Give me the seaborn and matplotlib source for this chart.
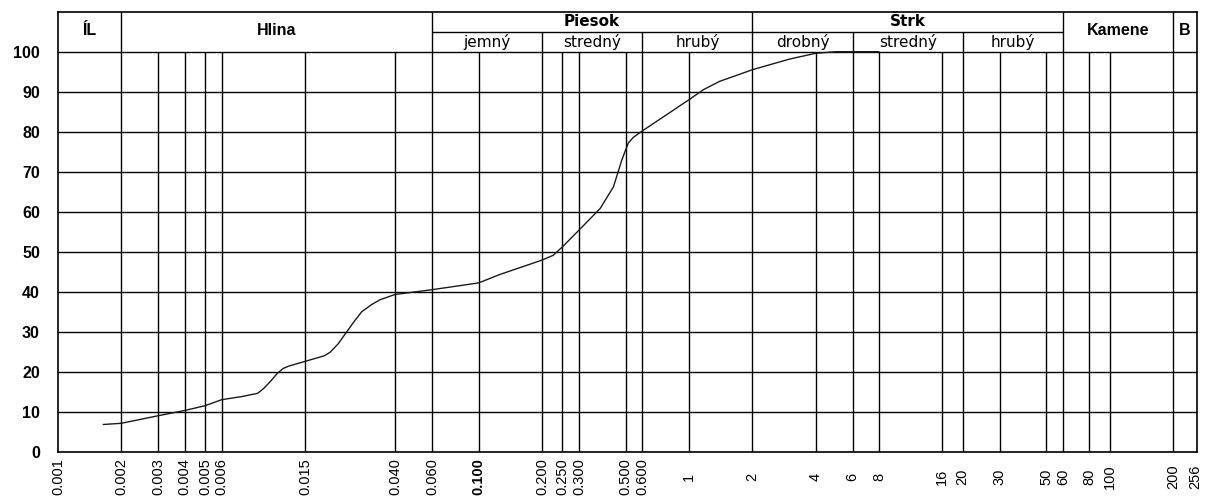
import math
import matplotlib
matplotlib.use("Agg")
import matplotlib.pyplot as plt
import seaborn as sns
import pandas as pd

# Grain size distribution curve (particle diameter in mm vs. percent passing)
diameter_mm = [0.00164, 0.002, 0.003, 0.004, 0.005, 0.006, 0.0075, 0.0089, 0.0095,
               0.0102, 0.011, 0.01175, 0.0125, 0.015, 0.0185, 0.0197, 0.0215, 0.0236,
               0.0258, 0.0278, 0.031, 0.034, 0.040, 0.060, 0.100, 0.126, 0.200,
               0.226, 0.250, 0.300, 0.378, 0.437, 0.479, 0.500, 0.515, 0.544, 0.600,
               1.0, 1.17, 1.4, 1.75, 2.0, 3.03, 4.0, 5.0, 8.0]
passing_pct = [6.8, 7.1, 9.0, 10.3, 11.5, 13.0, 13.8, 14.6, 15.8,
               17.5, 19.5, 20.8, 21.4, 22.6, 24.0, 24.9, 27.0, 30.0,
               32.8, 35.0, 36.8, 38.0, 39.3, 40.5, 42.2, 44.3, 47.9,
               49.1, 51.2, 55.4, 60.8, 66.2, 72.9, 75.5, 77.2, 78.6, 80.2,
               88.0, 90.5, 92.6, 94.4, 95.5, 98.2, 99.6, 100.0, 100.0]

# Sieve sizes shown on the x axis
sieve_sizes = [0.001, 0.002, 0.003, 0.004, 0.005, 0.006, 0.015, 0.040, 0.060, 0.100,
               0.200, 0.250, 0.300, 0.500, 0.600, 1, 2, 4, 6, 8, 16, 20, 30, 50, 60,
               80, 100, 200, 256]
sieve_labels = ["0.001", "0.002", "0.003", "0.004", "0.005", "0.006", "0.015", "0.040",
                "0.060", "0.100", "0.200", "0.250", "0.300", "0.500", "0.600", "1", "2",
                "4", "6", "8", "16", "20", "30", "50", "60", "80", "100", "200", "256"]
y_ticks = [0, 10, 20, 30, 40, 50, 60, 70, 80, 90, 100]

# Soil classes (top header row) and their boundaries in mm
main_classes = ["ÍL", "Hlina", "Piesok", "Štrk", "Kamene", "B"]
main_bounds = [0.001, 0.002, 0.060, 2, 60, 200, 260]
# Sub-classes of sand and gravel
sand_subs = ["jemný", "stredný", "hrubý"]
sand_bounds = [0.060, 0.2, 0.6, 2]
gravel_subs = ["drobný", "stredný", "hrubý"]
gravel_bounds = [2, 6, 20, 60]

sns.set_style("white")
plt.rcParams["font.family"] = ["Liberation Sans", "DejaVu Sans"]
plt.rcParams["text.color"] = "black"
plt.rcParams["xtick.color"] = "black"
plt.rcParams["ytick.color"] = "black"
plt.rcParams["xtick.labelcolor"] = "black"
plt.rcParams["ytick.labelcolor"] = "black"

fig = plt.figure(figsize=(12.05, 4.99), dpi=100)
W, H = 1205, 499
left, right, top, bottom = 58, 1197, 11.7, 451.7
ax = fig.add_axes([left / W, 1 - bottom / H, (right - left) / W, (bottom - top) / H])

ax.set_xscale("log")
ax.set_xlim(0.001, 260)
ax.set_ylim(0, 110)

grid_kw = dict(color="black", linewidth=1.0, zorder=1)
# vertical sieve lines within the chart body
ax.vlines(sieve_sizes[1:-1], 0, 100, **grid_kw)
# horizontal percentage lines
ax.hlines(y_ticks[1:], 0.001, 260, **grid_kw)

# header grid
ax.hlines(105, 0.060, 60, **grid_kw)
ax.vlines(main_bounds[1:-1], 100, 110, **grid_kw)
ax.vlines([sand_bounds[1], sand_bounds[2], gravel_bounds[1], gravel_bounds[2]], 100, 105, **grid_kw)

for s in ax.spines.values():
    s.set_color("black")
    s.set_linewidth(1.2)


def mid(a, b):
    return 10 ** ((math.log10(a) + math.log10(b)) / 2)


# header texts
for i, name in enumerate(main_classes):
    x = mid(main_bounds[i], main_bounds[i + 1])
    if name in ("Piesok", "Štrk"):
        ax.text(x, 107.6, name, ha="center", va="center", fontsize=11,
                fontweight="bold", family="DejaVu Sans", color="black")
    else:
        ax.text(x, 105.2, name, ha="center", va="center", fontsize=11.5,
                fontweight="bold", family="Liberation Sans", color="black")

for subs, bounds in ((sand_subs, sand_bounds), (gravel_subs, gravel_bounds)):
    for i, name in enumerate(subs):
        x = mid(bounds[i], bounds[i + 1])
        ax.text(x, 102.5, name, ha="center", va="center", fontsize=11,
                family="DejaVu Sans", color="black")

# grading curve
df = pd.DataFrame({"d": diameter_mm, "p": passing_pct})
sns.lineplot(data=df, x="d", y="p", ax=ax, color="#1a1a1a", linewidth=1.0,
             sort=False, zorder=3)
ax.set_xlabel("")
ax.set_ylabel("")

# ticks
ax.set_yticks(y_ticks)
ax.set_yticklabels([str(v) for v in y_ticks], fontsize=11.5, fontweight="bold")
ax.tick_params(axis="y", length=0, pad=13)

ax.set_xticks(sieve_sizes)
ax.set_xticklabels(sieve_labels, rotation=90, fontsize=10.5, va="center")
ax.xaxis.set_minor_locator(matplotlib.ticker.NullLocator())
ax.tick_params(axis="x", length=0, pad=18)
for lbl in ax.get_xticklabels():
    if lbl.get_text() == "0.100":
        lbl.set_fontweight("bold")

fig.savefig("out.png", dpi=100, facecolor="white")
